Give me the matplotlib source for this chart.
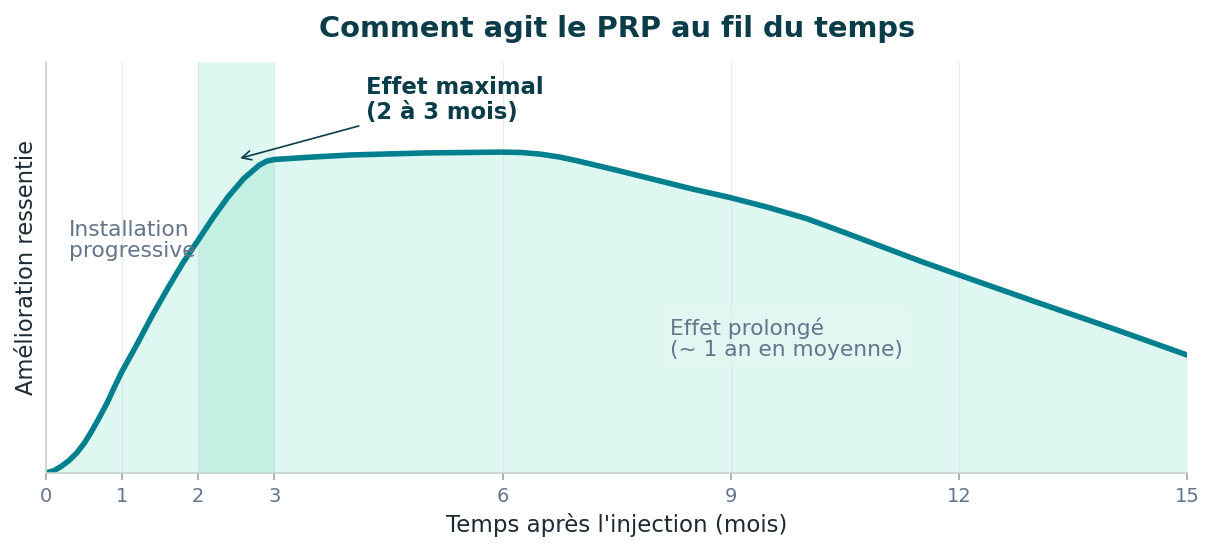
import numpy as np
import matplotlib
matplotlib.use("Agg")
import matplotlib.pyplot as plt

plt.rcParams["font.family"] = ["DejaVu Sans"]

# (0 = no improvement, 100 = top of axes)
months = [0, 0.1, 0.2, 0.3, 0.4, 0.5, 0.6, 0.7, 0.8, 0.9, 1.0, 1.2, 1.4, 1.6, 1.8,
          2.0, 2.2, 2.4, 2.6, 2.8, 2.9, 3.0, 3.5, 4, 5, 6, 6.25, 6.5, 6.75, 7.0,
          7.5, 8, 8.5, 9, 9.5, 10, 10.5, 11, 11.5, 12, 13, 14, 15]
effect = [0, 0.5, 1.6, 3.0, 4.8, 7.2, 10.2, 13.5, 17.0, 21.0, 24.8, 31.5, 38.5, 45.0, 51.2,
          56.7, 62.3, 67.4, 71.7, 74.9, 75.9, 76.3, 76.9, 77.4, 77.9, 78.1, 78.0, 77.6, 76.9, 75.9,
          73.7, 71.4, 69.1, 67.0, 64.6, 61.9, 58.5, 55.0, 51.5, 48.2, 41.7, 35.3, 28.7]
xticks = [0, 1, 2, 3, 6, 9, 12, 15]
peak_window = (2, 3)

line_col = "#00808f"
fill_col = "#dff7f1"
band_col = "#c4f0e4"
dark = "#0b3c49"
muted = "#64748b"

fig = plt.figure(figsize=(12.15, 5.55), dpi=100)
ax = fig.add_axes([0.038, 0.148, 0.939, 0.74])

m = np.array(months)
ax.fill_between(months, effect, 0, color=fill_col, lw=0, zorder=1)
ax.axvspan(*peak_window, color=fill_col, lw=0, zorder=0.5)
ax.fill_between(months, effect, 0, where=(m >= peak_window[0]) & (m <= peak_window[1]),
                color=band_col, lw=0, zorder=1.2)
ax.plot(months, effect, color=line_col, lw=4.0, solid_capstyle="round",
        solid_joinstyle="round", zorder=3)

ax.set_xlim(0, 15)
ax.set_ylim(0, 100)
ax.set_xticks(xticks)
ax.set_yticks([])
ax.set_axisbelow(False)
ax.grid(axis="x", color="#cfd8dc", lw=0.9, alpha=0.45)
for s in ["top", "right"]:
    ax.spines[s].set_visible(False)
for s in ["left", "bottom"]:
    ax.spines[s].set_color("#c6d0d3")
    ax.spines[s].set_linewidth(1.2)
    ax.spines[s].set_zorder(4)
ax.tick_params(axis="x", colors="#9aa5ad", labelcolor=muted, labelsize=14, length=5,
               width=1.2, pad=5)

ax.set_xlabel("Temps après l'injection (mois)", fontsize=16.5, color="#1e2a33", labelpad=5)
ax.set_ylabel("Amélioration ressentie", fontsize=16.3, color="#1e2a33", labelpad=6)
ax.set_title("Comment agit le PRP au fil du temps", fontsize=20.8, fontweight="bold",
             color=dark, pad=18)

ax.annotate("Effet maximal\n(2 à 3 mois)", xy=(2.55, 76.6), xytext=(4.2, 90.8),
            ha="left", va="center", fontsize=16.4, fontweight="bold", color=dark,
            linespacing=1.1,
            arrowprops=dict(arrowstyle="->", color=dark, lw=1.2, shrinkA=3, shrinkB=0),
            zorder=5)
ax.text(0.3, 56.6, "Installation\nprogressive", ha="left", va="center", fontsize=15.7,
        color=muted, linespacing=1.1, zorder=4)
ax.text(8.2, 32.7, "Effet prolongé\n(~ 1 an en moyenne)", ha="left", va="center",
        fontsize=15.7, color=muted, linespacing=1.1, zorder=4,
        bbox=dict(boxstyle="square,pad=0.3", fc="white", ec="none", alpha=0.12))

fig.savefig("out.png", dpi=100)
